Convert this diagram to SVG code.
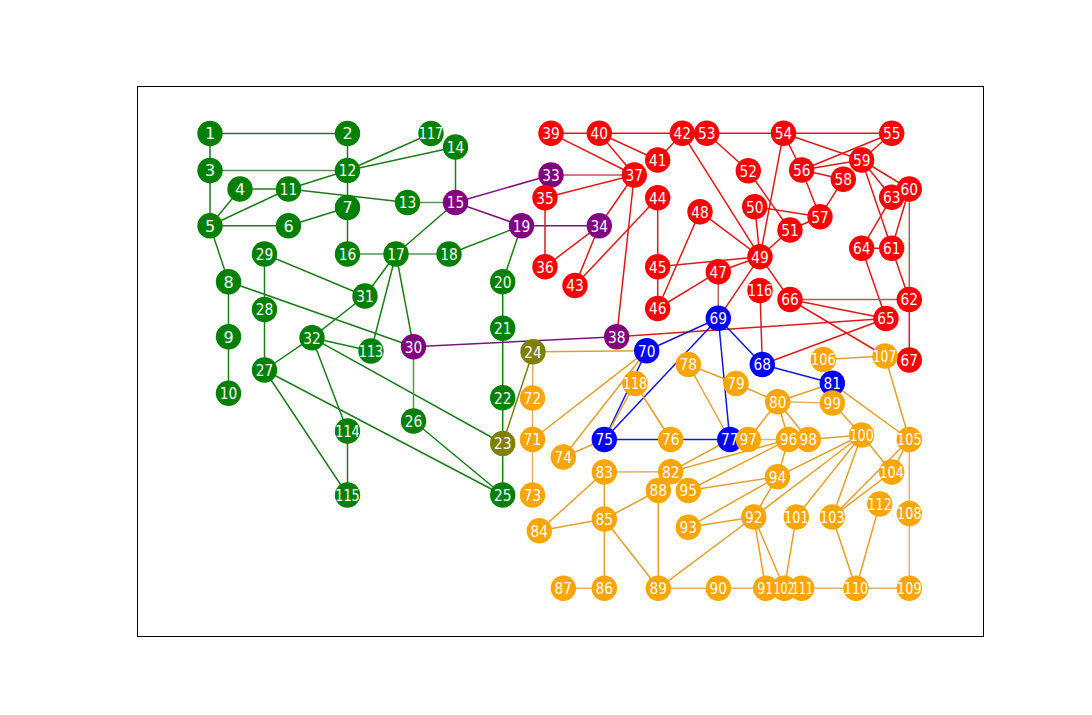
<svg xmlns="http://www.w3.org/2000/svg" width="1092" height="715" viewBox="0 0 1092 715">
<style>
line{stroke-width:1.5;fill:none}
.g{stroke:#1c7c1c}.gm{stroke:#5f8f5f}.p{stroke:#7a157a}.ol{stroke:#7d7d18}.r{stroke:#dc1a1a}.rm{stroke:#b85a5a}.b{stroke:#1414e0}.o{stroke:#e3a02a}.t{stroke:#dcb46a}
circle{stroke:none}
.G{fill:#008000}.P{fill:#800080}.OL{fill:#808000}.R{fill:#ff0000}.B{fill:#0000ff}.O{fill:#ffa500}
text{fill:#ffffff;font-family:"DejaVu Sans",sans-serif;font-size:16px;text-anchor:middle}
</style>
<rect x="137.5" y="86.5" width="846" height="550" fill="#ffffff" stroke="#000000" stroke-width="1"/>
<g id="edges">
<line class="g" x1="210" y1="133.5" x2="347.5" y2="133.5"/>
<line class="g" x1="210" y1="133.5" x2="210" y2="170.5"/>
<line class="g" x1="347.5" y1="133.5" x2="347.5" y2="170.5"/>
<line class="g" x1="347.5" y1="170.5" x2="431" y2="133.5"/>
<line class="g" x1="347.5" y1="170.5" x2="455.5" y2="147"/>
<line class="g" x1="347.5" y1="170.5" x2="288.5" y2="189"/>
<line class="g" x1="347.5" y1="170.5" x2="347.5" y2="207.5"/>
<line class="g" x1="210" y1="170.5" x2="210" y2="225.7"/>
<line class="g" x1="240" y1="189" x2="288.5" y2="189"/>
<line class="g" x1="240" y1="189" x2="210" y2="225.7"/>
<line class="g" x1="210" y1="225.7" x2="288.5" y2="189"/>
<line class="g" x1="210" y1="225.7" x2="288.5" y2="225.7"/>
<line class="g" x1="288.5" y1="225.7" x2="347.5" y2="207.5"/>
<line class="g" x1="288.5" y1="189" x2="407.5" y2="202.5"/>
<line class="g" x1="455.5" y1="147" x2="455.5" y2="202.5"/>
<line class="g" x1="347.5" y1="207.5" x2="347.5" y2="254"/>
<line class="g" x1="455.5" y1="202.5" x2="396" y2="254"/>
<line class="g" x1="210" y1="225.7" x2="228.5" y2="281.7"/>
<line class="g" x1="228.5" y1="281.7" x2="228.5" y2="336.7"/>
<line class="g" x1="228.5" y1="336.7" x2="228.5" y2="393.3"/>
<line class="g" x1="228.5" y1="281.7" x2="413.5" y2="346.7"/>
<line class="g" x1="264.5" y1="254" x2="264.5" y2="309.5"/>
<line class="g" x1="264.5" y1="309.5" x2="264.5" y2="370"/>
<line class="g" x1="264.5" y1="254" x2="365" y2="296"/>
<line class="g" x1="396" y1="254" x2="365" y2="296"/>
<line class="g" x1="396" y1="254" x2="371" y2="351"/>
<line class="g" x1="396" y1="254" x2="413.5" y2="346.7"/>
<line class="g" x1="365" y1="296" x2="312" y2="337.7"/>
<line class="g" x1="312" y1="337.7" x2="264.5" y2="370"/>
<line class="g" x1="312" y1="337.7" x2="371" y2="351"/>
<line class="g" x1="312" y1="337.7" x2="347.5" y2="431"/>
<line class="g" x1="312" y1="337.7" x2="502.7" y2="443.5"/>
<line class="g" x1="264.5" y1="370" x2="347.5" y2="495"/>
<line class="g" x1="264.5" y1="370" x2="502.7" y2="495"/>
<line class="g" x1="347.5" y1="431" x2="347.5" y2="495"/>
<line class="g" x1="413.5" y1="421" x2="502.7" y2="495"/>
<line class="g" x1="449" y1="254" x2="521.5" y2="225.7"/>
<line class="g" x1="521.5" y1="225.7" x2="502.7" y2="281.7"/>
<line class="g" x1="502.7" y1="281.7" x2="502.7" y2="328.3"/>
<line class="g" x1="502.7" y1="328.3" x2="502.7" y2="397.7"/>
<line class="g" x1="502.7" y1="397.7" x2="502.7" y2="443.5"/>
<line class="g" x1="502.7" y1="443.5" x2="502.7" y2="495"/>
<line class="gm" x1="210" y1="170.5" x2="347.5" y2="170.5"/>
<line class="gm" x1="407.5" y1="202.5" x2="455.5" y2="202.5"/>
<line class="gm" x1="347.5" y1="254" x2="396" y2="254"/>
<line class="gm" x1="396" y1="254" x2="449" y2="254"/>
<line class="gm" x1="413.5" y1="346.7" x2="413.5" y2="421"/>
<line class="p" x1="455.5" y1="202.5" x2="551" y2="175"/>
<line class="p" x1="455.5" y1="202.5" x2="521.5" y2="225.7"/>
<line class="p" x1="521.5" y1="225.7" x2="599.3" y2="225.7"/>
<line class="p" x1="413.5" y1="346.7" x2="616.7" y2="336.7"/>
<line class="ol" x1="502.7" y1="443.5" x2="533" y2="351.7"/>
<line class="r" x1="551" y1="133.3" x2="599.3" y2="133.3"/>
<line class="r" x1="599.3" y1="133.3" x2="682.3" y2="133.3"/>
<line class="r" x1="706.7" y1="133.3" x2="783.5" y2="133.3"/>
<line class="r" x1="783.5" y1="133.3" x2="891.7" y2="133.3"/>
<line class="r" x1="551" y1="133.3" x2="634.3" y2="175"/>
<line class="r" x1="599.3" y1="133.3" x2="634.3" y2="175"/>
<line class="r" x1="599.3" y1="133.3" x2="657.7" y2="160"/>
<line class="r" x1="657.7" y1="160" x2="682.3" y2="133.3"/>
<line class="rm" x1="551" y1="175" x2="634.3" y2="175"/>
<line class="r" x1="545" y1="197.7" x2="634.3" y2="175"/>
<line class="r" x1="545" y1="197.7" x2="545" y2="266.7"/>
<line class="r" x1="599.3" y1="225.7" x2="545" y2="266.7"/>
<line class="r" x1="599.3" y1="225.7" x2="634.3" y2="175"/>
<line class="r" x1="599.3" y1="225.7" x2="575" y2="285.5"/>
<line class="r" x1="657.7" y1="197.7" x2="575" y2="285.5"/>
<line class="r" x1="657.7" y1="197.7" x2="657.7" y2="266.7"/>
<line class="r" x1="657.7" y1="266.7" x2="657.7" y2="308.5"/>
<line class="r" x1="634.3" y1="175" x2="616.7" y2="336.7"/>
<line class="r" x1="682.3" y1="133.3" x2="760" y2="256.7"/>
<line class="r" x1="706.7" y1="133.3" x2="748.3" y2="170.7"/>
<line class="r" x1="748.3" y1="170.7" x2="790" y2="230"/>
<line class="r" x1="783.5" y1="133.3" x2="760" y2="256.7"/>
<line class="r" x1="783.5" y1="133.3" x2="801.7" y2="170"/>
<line class="r" x1="783.5" y1="133.3" x2="861.7" y2="160"/>
<line class="r" x1="891.7" y1="133.3" x2="801.7" y2="170"/>
<line class="r" x1="891.7" y1="133.3" x2="861.7" y2="160"/>
<line class="r" x1="801.7" y1="170" x2="861.7" y2="160"/>
<line class="r" x1="801.7" y1="170" x2="843.3" y2="179.3"/>
<line class="r" x1="801.7" y1="170" x2="820" y2="216.7"/>
<line class="r" x1="843.3" y1="179.3" x2="820" y2="216.7"/>
<line class="r" x1="820" y1="216.7" x2="790" y2="230"/>
<line class="r" x1="754.7" y1="206.7" x2="820" y2="216.7"/>
<line class="r" x1="754.7" y1="206.7" x2="760" y2="256.7"/>
<line class="r" x1="790" y1="230" x2="760" y2="256.7"/>
<line class="r" x1="700" y1="211.7" x2="760" y2="256.7"/>
<line class="r" x1="657.7" y1="266.7" x2="760" y2="256.7"/>
<line class="r" x1="718.3" y1="271.7" x2="760" y2="256.7"/>
<line class="r" x1="657.7" y1="308.5" x2="700" y2="211.7"/>
<line class="r" x1="657.7" y1="308.5" x2="718.3" y2="271.7"/>
<line class="rm" x1="718.3" y1="271.7" x2="718.3" y2="318.3"/>
<line class="r" x1="760" y1="256.7" x2="718.3" y2="318.3"/>
<line class="r" x1="760" y1="256.7" x2="790" y2="299.5"/>
<line class="r" x1="760" y1="290.5" x2="762.3" y2="364.5"/>
<line class="r" x1="790" y1="299.5" x2="886" y2="318.5"/>
<line class="r" x1="790" y1="299.5" x2="885" y2="356"/>
<line class="r" x1="886" y1="318.5" x2="762.3" y2="364.5"/>
<line class="r" x1="616.7" y1="336.7" x2="886" y2="318.5"/>
<line class="r" x1="861.7" y1="160" x2="909.3" y2="189"/>
<line class="r" x1="861.7" y1="160" x2="891.7" y2="197.3"/>
<line class="r" x1="861.7" y1="160" x2="891.7" y2="248.3"/>
<line class="r" x1="909.3" y1="189" x2="891.7" y2="197.3"/>
<line class="r" x1="909.3" y1="189" x2="891.7" y2="248.3"/>
<line class="rm" x1="909.3" y1="189" x2="909.3" y2="299.5"/>
<line class="r" x1="891.7" y1="197.3" x2="861.7" y2="248.3"/>
<line class="r" x1="861.7" y1="248.3" x2="891.7" y2="248.3"/>
<line class="r" x1="861.7" y1="248.3" x2="886" y2="318.5"/>
<line class="r" x1="891.7" y1="248.3" x2="909.3" y2="299.5"/>
<line class="r" x1="909.3" y1="299.5" x2="909.3" y2="360"/>
<line class="rm" x1="790" y1="299.5" x2="909.3" y2="299.5"/>
<line class="b" x1="718.3" y1="318.3" x2="646.7" y2="350.7"/>
<line class="b" x1="718.3" y1="318.3" x2="604.3" y2="439.5"/>
<line class="b" x1="718.3" y1="318.3" x2="729.8" y2="439.5"/>
<line class="b" x1="718.3" y1="318.3" x2="762.3" y2="364.5"/>
<line class="b" x1="646.7" y1="350.7" x2="604.3" y2="439.5"/>
<line class="b" x1="604.3" y1="439.5" x2="670.7" y2="439.5"/>
<line class="b" x1="670.7" y1="439.5" x2="729.8" y2="439.5"/>
<line class="b" x1="762.3" y1="364.5" x2="832.3" y2="383.3"/>
<line class="o" x1="533" y1="351.7" x2="646.7" y2="350.7"/>
<line class="t" x1="533" y1="351.7" x2="532.5" y2="398"/>
<line class="t" x1="532.5" y1="398" x2="532.5" y2="439.5"/>
<line class="t" x1="532.5" y1="439.5" x2="532.5" y2="495"/>
<line class="o" x1="532.5" y1="439.5" x2="646.7" y2="350.7"/>
<line class="o" x1="563.3" y1="457" x2="646.7" y2="350.7"/>
<line class="o" x1="563.3" y1="457" x2="604.3" y2="439.5"/>
<line class="o" x1="635" y1="383.5" x2="604.3" y2="439.5"/>
<line class="o" x1="635" y1="383.5" x2="670.7" y2="439.5"/>
<line class="o" x1="688.3" y1="364.5" x2="729.8" y2="439.5"/>
<line class="o" x1="688.3" y1="364.5" x2="736" y2="383.5"/>
<line class="o" x1="736" y1="383.5" x2="777.7" y2="401.7"/>
<line class="o" x1="777.7" y1="401.7" x2="832.3" y2="383.3"/>
<line class="t" x1="777.7" y1="401.7" x2="832.3" y2="403"/>
<line class="o" x1="777.7" y1="401.7" x2="748.3" y2="439.5"/>
<line class="o" x1="777.7" y1="401.7" x2="788.5" y2="439.5"/>
<line class="o" x1="777.7" y1="401.7" x2="808.3" y2="439.5"/>
<line class="t" x1="748.3" y1="439.5" x2="788.5" y2="439.5"/>
<line class="o" x1="670.7" y1="471.7" x2="729.8" y2="439.5"/>
<line class="o" x1="670.7" y1="471.7" x2="788.5" y2="439.5"/>
<line class="o" x1="688.3" y1="490.5" x2="788.5" y2="439.5"/>
<line class="o" x1="688.3" y1="490.5" x2="777.5" y2="476.7"/>
<line class="o" x1="777.5" y1="476.7" x2="788.5" y2="439.5"/>
<line class="o" x1="777.5" y1="476.7" x2="861.7" y2="435"/>
<line class="o" x1="777.5" y1="476.7" x2="753.8" y2="517"/>
<line class="o" x1="688.3" y1="527.3" x2="777.5" y2="476.7"/>
<line class="o" x1="688.3" y1="527.3" x2="753.8" y2="517"/>
<line class="o" x1="753.8" y1="517" x2="861.7" y2="435"/>
<line class="o" x1="658.3" y1="588.3" x2="753.8" y2="517"/>
<line class="o" x1="753.8" y1="517" x2="765.7" y2="588.3"/>
<line class="o" x1="753.8" y1="517" x2="784.3" y2="588.3"/>
<line class="o" x1="796.3" y1="517" x2="784.3" y2="588.3"/>
<line class="o" x1="796.3" y1="517" x2="861.7" y2="435"/>
<line class="o" x1="861.7" y1="435" x2="832.3" y2="517"/>
<line class="o" x1="861.7" y1="435" x2="808.3" y2="439.5"/>
<line class="o" x1="832.3" y1="403" x2="861.7" y2="435"/>
<line class="o" x1="861.7" y1="435" x2="891.7" y2="472"/>
<line class="o" x1="832.3" y1="383.3" x2="909.3" y2="439.5"/>
<line class="o" x1="891.7" y1="472" x2="909.3" y2="439.5"/>
<line class="o" x1="832.3" y1="517" x2="891.7" y2="472"/>
<line class="o" x1="832.3" y1="517" x2="909.3" y2="439.5"/>
<line class="o" x1="832.3" y1="517" x2="856" y2="588.3"/>
<line class="o" x1="879.7" y1="504" x2="856" y2="588.3"/>
<line class="t" x1="909.3" y1="439.5" x2="909.3" y2="513.5"/>
<line class="t" x1="909.3" y1="513.5" x2="909.3" y2="588.3"/>
<line class="t" x1="909.3" y1="588.3" x2="856" y2="588.3"/>
<line class="t" x1="856" y1="588.3" x2="801.7" y2="588.3"/>
<line class="t" x1="765.7" y1="588.3" x2="718.3" y2="588.3"/>
<line class="t" x1="718.3" y1="588.3" x2="658.3" y2="588.3"/>
<line class="t" x1="604.3" y1="588.3" x2="563.3" y2="588.3"/>
<line class="o" x1="658.3" y1="588.3" x2="604.3" y2="519"/>
<line class="o" x1="658.3" y1="588.3" x2="658.3" y2="490.5"/>
<line class="o" x1="604.3" y1="519" x2="604.3" y2="588.3"/>
<line class="o" x1="604.3" y1="519" x2="604.3" y2="472"/>
<line class="o" x1="604.3" y1="519" x2="539.3" y2="530.7"/>
<line class="o" x1="604.3" y1="519" x2="658.3" y2="490.5"/>
<line class="o" x1="604.3" y1="472" x2="539.3" y2="530.7"/>
<line class="t" x1="604.3" y1="472" x2="670.7" y2="471.7"/>
<line class="o" x1="823.3" y1="359.5" x2="885" y2="356"/>
<line class="o" x1="885" y1="356" x2="909.3" y2="439.5"/>
</g>
<g id="n1"><circle class="G" cx="210" cy="133.5" r="12.7"/><text x="210" y="139.3">1</text></g>
<g id="n2"><circle class="G" cx="347.5" cy="133.5" r="12.7"/><text x="347.5" y="139.3">2</text></g>
<g id="n3"><circle class="G" cx="210" cy="170.5" r="12.7"/><text x="210" y="176.3">3</text></g>
<g id="n4"><circle class="G" cx="240" cy="189" r="12.7"/><text x="240" y="194.8">4</text></g>
<g id="n5"><circle class="G" cx="210" cy="225.7" r="12.7"/><text x="210" y="231.5">5</text></g>
<g id="n6"><circle class="G" cx="288.5" cy="225.7" r="12.7"/><text x="288.5" y="231.5">6</text></g>
<g id="n7"><circle class="G" cx="347.5" cy="207.5" r="12.7"/><text x="347.5" y="213.3">7</text></g>
<g id="n8"><circle class="G" cx="228.5" cy="281.7" r="12.7"/><text x="228.5" y="287.5">8</text></g>
<g id="n9"><circle class="G" cx="228.5" cy="336.7" r="12.7"/><text x="228.5" y="342.5">9</text></g>
<g id="n10"><circle class="G" cx="228.5" cy="393.3" r="12.7"/><text x="228.5" y="399.1" textLength="17.5" lengthAdjust="spacingAndGlyphs">10</text></g>
<g id="n11"><circle class="G" cx="288.5" cy="189" r="12.7"/><text x="288.5" y="194.8" textLength="17.5" lengthAdjust="spacingAndGlyphs">11</text></g>
<g id="n12"><circle class="G" cx="347.5" cy="170.5" r="12.7"/><text x="347.5" y="176.3" textLength="17.5" lengthAdjust="spacingAndGlyphs">12</text></g>
<g id="n13"><circle class="G" cx="407.5" cy="202.5" r="12.7"/><text x="407.5" y="208.3" textLength="17.5" lengthAdjust="spacingAndGlyphs">13</text></g>
<g id="n14"><circle class="G" cx="455.5" cy="147" r="12.7"/><text x="455.5" y="152.8" textLength="17.5" lengthAdjust="spacingAndGlyphs">14</text></g>
<g id="n15"><circle class="P" cx="455.5" cy="202.5" r="12.7"/><text x="455.5" y="208.3" textLength="17.5" lengthAdjust="spacingAndGlyphs">15</text></g>
<g id="n16"><circle class="G" cx="347.5" cy="254" r="12.7"/><text x="347.5" y="259.8" textLength="17.5" lengthAdjust="spacingAndGlyphs">16</text></g>
<g id="n17"><circle class="G" cx="396" cy="254" r="12.7"/><text x="396" y="259.8" textLength="17.5" lengthAdjust="spacingAndGlyphs">17</text></g>
<g id="n18"><circle class="G" cx="449" cy="254" r="12.7"/><text x="449" y="259.8" textLength="17.5" lengthAdjust="spacingAndGlyphs">18</text></g>
<g id="n19"><circle class="P" cx="521.5" cy="225.7" r="12.7"/><text x="521.5" y="231.5" textLength="17.5" lengthAdjust="spacingAndGlyphs">19</text></g>
<g id="n20"><circle class="G" cx="502.7" cy="281.7" r="12.7"/><text x="502.7" y="287.5" textLength="17.5" lengthAdjust="spacingAndGlyphs">20</text></g>
<g id="n21"><circle class="G" cx="502.7" cy="328.3" r="12.7"/><text x="502.7" y="334.1" textLength="17.5" lengthAdjust="spacingAndGlyphs">21</text></g>
<g id="n22"><circle class="G" cx="502.7" cy="397.7" r="12.7"/><text x="502.7" y="403.5" textLength="17.5" lengthAdjust="spacingAndGlyphs">22</text></g>
<g id="n23"><circle class="OL" cx="502.7" cy="443.5" r="12.7"/><text x="502.7" y="449.3" textLength="17.5" lengthAdjust="spacingAndGlyphs">23</text></g>
<g id="n24"><circle class="OL" cx="533" cy="351.7" r="12.7"/><text x="533" y="357.5" textLength="17.5" lengthAdjust="spacingAndGlyphs">24</text></g>
<g id="n25"><circle class="G" cx="502.7" cy="495" r="12.7"/><text x="502.7" y="500.8" textLength="17.5" lengthAdjust="spacingAndGlyphs">25</text></g>
<g id="n26"><circle class="G" cx="413.5" cy="421" r="12.7"/><text x="413.5" y="426.8" textLength="17.5" lengthAdjust="spacingAndGlyphs">26</text></g>
<g id="n27"><circle class="G" cx="264.5" cy="370" r="12.7"/><text x="264.5" y="375.8" textLength="17.5" lengthAdjust="spacingAndGlyphs">27</text></g>
<g id="n28"><circle class="G" cx="264.5" cy="309.5" r="12.7"/><text x="264.5" y="315.3" textLength="17.5" lengthAdjust="spacingAndGlyphs">28</text></g>
<g id="n29"><circle class="G" cx="264.5" cy="254" r="12.7"/><text x="264.5" y="259.8" textLength="17.5" lengthAdjust="spacingAndGlyphs">29</text></g>
<g id="n30"><circle class="P" cx="413.5" cy="346.7" r="12.7"/><text x="413.5" y="352.5" textLength="17.5" lengthAdjust="spacingAndGlyphs">30</text></g>
<g id="n31"><circle class="G" cx="365" cy="296" r="12.7"/><text x="365" y="301.8" textLength="17.5" lengthAdjust="spacingAndGlyphs">31</text></g>
<g id="n32"><circle class="G" cx="312" cy="337.7" r="12.7"/><text x="312" y="343.5" textLength="17.5" lengthAdjust="spacingAndGlyphs">32</text></g>
<g id="n33"><circle class="P" cx="551" cy="175" r="12.7"/><text x="551" y="180.8" textLength="17.5" lengthAdjust="spacingAndGlyphs">33</text></g>
<g id="n34"><circle class="P" cx="599.3" cy="225.7" r="12.7"/><text x="599.3" y="231.5" textLength="17.5" lengthAdjust="spacingAndGlyphs">34</text></g>
<g id="n35"><circle class="R" cx="545" cy="197.7" r="12.7"/><text x="545" y="203.5" textLength="17.5" lengthAdjust="spacingAndGlyphs">35</text></g>
<g id="n36"><circle class="R" cx="545" cy="266.7" r="12.7"/><text x="545" y="272.5" textLength="17.5" lengthAdjust="spacingAndGlyphs">36</text></g>
<g id="n37"><circle class="R" cx="634.3" cy="175" r="12.7"/><text x="634.3" y="180.8" textLength="17.5" lengthAdjust="spacingAndGlyphs">37</text></g>
<g id="n38"><circle class="P" cx="616.7" cy="336.7" r="12.7"/><text x="616.7" y="342.5" textLength="17.5" lengthAdjust="spacingAndGlyphs">38</text></g>
<g id="n39"><circle class="R" cx="551" cy="133.3" r="12.7"/><text x="551" y="139.1" textLength="17.5" lengthAdjust="spacingAndGlyphs">39</text></g>
<g id="n40"><circle class="R" cx="599.3" cy="133.3" r="12.7"/><text x="599.3" y="139.1" textLength="17.5" lengthAdjust="spacingAndGlyphs">40</text></g>
<g id="n41"><circle class="R" cx="657.7" cy="160" r="12.7"/><text x="657.7" y="165.8" textLength="17.5" lengthAdjust="spacingAndGlyphs">41</text></g>
<g id="n42"><circle class="R" cx="682.3" cy="133.3" r="12.7"/><g id="n53"><circle class="R" cx="706.7" cy="133.3" r="12.7"/><text x="706.7" y="139.1" textLength="17.5" lengthAdjust="spacingAndGlyphs">53</text></g><text x="682.3" y="139.1" textLength="17.5" lengthAdjust="spacingAndGlyphs">42</text></g>
<g id="n43"><circle class="R" cx="575" cy="285.5" r="12.7"/><text x="575" y="291.3" textLength="17.5" lengthAdjust="spacingAndGlyphs">43</text></g>
<g id="n44"><circle class="R" cx="657.7" cy="197.7" r="12.7"/><text x="657.7" y="203.5" textLength="17.5" lengthAdjust="spacingAndGlyphs">44</text></g>
<g id="n45"><circle class="R" cx="657.7" cy="266.7" r="12.7"/><text x="657.7" y="272.5" textLength="17.5" lengthAdjust="spacingAndGlyphs">45</text></g>
<g id="n46"><circle class="R" cx="657.7" cy="308.5" r="12.7"/><text x="657.7" y="314.3" textLength="17.5" lengthAdjust="spacingAndGlyphs">46</text></g>
<g id="n47"><circle class="R" cx="718.3" cy="271.7" r="12.7"/><text x="718.3" y="277.5" textLength="17.5" lengthAdjust="spacingAndGlyphs">47</text></g>
<g id="n48"><circle class="R" cx="700" cy="211.7" r="12.7"/><text x="700" y="217.5" textLength="17.5" lengthAdjust="spacingAndGlyphs">48</text></g>
<g id="n49"><circle class="R" cx="760" cy="256.7" r="12.7"/><text x="760" y="262.5" textLength="17.5" lengthAdjust="spacingAndGlyphs">49</text></g>
<g id="n50"><circle class="R" cx="754.7" cy="206.7" r="12.7"/><text x="754.7" y="212.5" textLength="17.5" lengthAdjust="spacingAndGlyphs">50</text></g>
<g id="n51"><circle class="R" cx="790" cy="230" r="12.7"/><text x="790" y="235.8" textLength="17.5" lengthAdjust="spacingAndGlyphs">51</text></g>
<g id="n52"><circle class="R" cx="748.3" cy="170.7" r="12.7"/><text x="748.3" y="176.5" textLength="17.5" lengthAdjust="spacingAndGlyphs">52</text></g>
<g id="n54"><circle class="R" cx="783.5" cy="133.3" r="12.7"/><text x="783.5" y="139.1" textLength="17.5" lengthAdjust="spacingAndGlyphs">54</text></g>
<g id="n55"><circle class="R" cx="891.7" cy="133.3" r="12.7"/><text x="891.7" y="139.1" textLength="17.5" lengthAdjust="spacingAndGlyphs">55</text></g>
<g id="n56"><circle class="R" cx="801.7" cy="170" r="12.7"/><text x="801.7" y="175.8" textLength="17.5" lengthAdjust="spacingAndGlyphs">56</text></g>
<g id="n57"><circle class="R" cx="820" cy="216.7" r="12.7"/><text x="820" y="222.5" textLength="17.5" lengthAdjust="spacingAndGlyphs">57</text></g>
<g id="n58"><circle class="R" cx="843.3" cy="179.3" r="12.7"/><text x="843.3" y="185.1" textLength="17.5" lengthAdjust="spacingAndGlyphs">58</text></g>
<g id="n59"><circle class="R" cx="861.7" cy="160" r="12.7"/><text x="861.7" y="165.8" textLength="17.5" lengthAdjust="spacingAndGlyphs">59</text></g>
<g id="n63"><circle class="R" cx="891.7" cy="197.3" r="12.7"/><g id="n60"><circle class="R" cx="909.3" cy="189" r="12.7"/><text x="909.3" y="194.8" textLength="17.5" lengthAdjust="spacingAndGlyphs">60</text></g><text x="891.7" y="203.1" textLength="17.5" lengthAdjust="spacingAndGlyphs">63</text></g>
<g id="n61"><circle class="R" cx="891.7" cy="248.3" r="12.7"/><text x="891.7" y="254.1" textLength="17.5" lengthAdjust="spacingAndGlyphs">61</text></g>
<g id="n62"><circle class="R" cx="909.3" cy="299.5" r="12.7"/><text x="909.3" y="305.3" textLength="17.5" lengthAdjust="spacingAndGlyphs">62</text></g>
<g id="n64"><circle class="R" cx="861.7" cy="248.3" r="12.7"/><text x="861.7" y="254.1" textLength="17.5" lengthAdjust="spacingAndGlyphs">64</text></g>
<g id="n65"><circle class="R" cx="886" cy="318.5" r="12.7"/><text x="886" y="324.3" textLength="17.5" lengthAdjust="spacingAndGlyphs">65</text></g>
<g id="n66"><circle class="R" cx="790" cy="299.5" r="12.7"/><text x="790" y="305.3" textLength="17.5" lengthAdjust="spacingAndGlyphs">66</text></g>
<g id="n67"><circle class="R" cx="909.3" cy="360" r="12.7"/><text x="909.3" y="365.8" textLength="17.5" lengthAdjust="spacingAndGlyphs">67</text></g>
<g id="n68"><circle class="B" cx="762.3" cy="364.5" r="12.7"/><text x="762.3" y="370.3" textLength="17.5" lengthAdjust="spacingAndGlyphs">68</text></g>
<g id="n69"><circle class="B" cx="718.3" cy="318.3" r="12.7"/><text x="718.3" y="324.1" textLength="17.5" lengthAdjust="spacingAndGlyphs">69</text></g>
<g id="n70"><circle class="B" cx="646.7" cy="350.7" r="12.7"/><text x="646.7" y="356.5" textLength="17.5" lengthAdjust="spacingAndGlyphs">70</text></g>
<g id="n71"><circle class="O" cx="532.5" cy="439.5" r="12.7"/><text x="532.5" y="445.3" textLength="17.5" lengthAdjust="spacingAndGlyphs">71</text></g>
<g id="n72"><circle class="O" cx="532.5" cy="398" r="12.7"/><text x="532.5" y="403.8" textLength="17.5" lengthAdjust="spacingAndGlyphs">72</text></g>
<g id="n73"><circle class="O" cx="532.5" cy="495" r="12.7"/><text x="532.5" y="500.8" textLength="17.5" lengthAdjust="spacingAndGlyphs">73</text></g>
<g id="n74"><circle class="O" cx="563.3" cy="457" r="12.7"/><text x="563.3" y="462.8" textLength="17.5" lengthAdjust="spacingAndGlyphs">74</text></g>
<g id="n75"><circle class="B" cx="604.3" cy="439.5" r="12.7"/><text x="604.3" y="445.3" textLength="17.5" lengthAdjust="spacingAndGlyphs">75</text></g>
<g id="n76"><circle class="O" cx="670.7" cy="439.5" r="12.7"/><text x="670.7" y="445.3" textLength="17.5" lengthAdjust="spacingAndGlyphs">76</text></g>
<g id="n77"><circle class="B" cx="729.8" cy="439.5" r="12.7"/><g id="n97"><circle class="O" cx="748.3" cy="439.5" r="12.7"/><text x="748.3" y="445.3" textLength="17.5" lengthAdjust="spacingAndGlyphs">97</text></g><text x="729.8" y="445.3" textLength="17.5" lengthAdjust="spacingAndGlyphs">77</text></g>
<g id="n78"><circle class="O" cx="688.3" cy="364.5" r="12.7"/><text x="688.3" y="370.3" textLength="17.5" lengthAdjust="spacingAndGlyphs">78</text></g>
<g id="n79"><circle class="O" cx="736" cy="383.5" r="12.7"/><text x="736" y="389.3" textLength="17.5" lengthAdjust="spacingAndGlyphs">79</text></g>
<g id="n80"><circle class="O" cx="777.7" cy="401.7" r="12.7"/><text x="777.7" y="407.5" textLength="17.5" lengthAdjust="spacingAndGlyphs">80</text></g>
<g id="n81"><circle class="B" cx="832.3" cy="383.3" r="12.7"/><text x="832.3" y="389.1" textLength="17.5" lengthAdjust="spacingAndGlyphs">81</text></g>
<g id="n82"><circle class="O" cx="670.7" cy="471.7" r="12.7"/><text x="670.7" y="477.5" textLength="17.5" lengthAdjust="spacingAndGlyphs">82</text></g>
<g id="n83"><circle class="O" cx="604.3" cy="472" r="12.7"/><text x="604.3" y="477.8" textLength="17.5" lengthAdjust="spacingAndGlyphs">83</text></g>
<g id="n84"><circle class="O" cx="539.3" cy="530.7" r="12.7"/><text x="539.3" y="536.5" textLength="17.5" lengthAdjust="spacingAndGlyphs">84</text></g>
<g id="n85"><circle class="O" cx="604.3" cy="519" r="12.7"/><text x="604.3" y="524.8" textLength="17.5" lengthAdjust="spacingAndGlyphs">85</text></g>
<g id="n86"><circle class="O" cx="604.3" cy="588.3" r="12.7"/><text x="604.3" y="594.1" textLength="17.5" lengthAdjust="spacingAndGlyphs">86</text></g>
<g id="n87"><circle class="O" cx="563.3" cy="588.3" r="12.7"/><text x="563.3" y="594.1" textLength="17.5" lengthAdjust="spacingAndGlyphs">87</text></g>
<g id="n88"><circle class="O" cx="658.3" cy="490.5" r="12.7"/><text x="658.3" y="496.3" textLength="17.5" lengthAdjust="spacingAndGlyphs">88</text></g>
<g id="n89"><circle class="O" cx="658.3" cy="588.3" r="12.7"/><text x="658.3" y="594.1" textLength="17.5" lengthAdjust="spacingAndGlyphs">89</text></g>
<g id="n90"><circle class="O" cx="718.3" cy="588.3" r="12.7"/><text x="718.3" y="594.1" textLength="17.5" lengthAdjust="spacingAndGlyphs">90</text></g>
<g id="n91"><circle class="O" cx="765.7" cy="588.3" r="12.7"/><g id="n102"><circle class="O" cx="784.3" cy="588.3" r="12.7"/><g id="n111"><circle class="O" cx="801.7" cy="588.3" r="12.7"/><text x="802.5" y="594.1" textLength="21" lengthAdjust="spacingAndGlyphs">111</text></g><text x="784" y="594.1" textLength="21" lengthAdjust="spacingAndGlyphs">102</text></g><text x="765.2" y="594.1" textLength="16" lengthAdjust="spacingAndGlyphs">91</text></g>
<g id="n92"><circle class="O" cx="753.8" cy="517" r="12.7"/><text x="753.8" y="522.8" textLength="17.5" lengthAdjust="spacingAndGlyphs">92</text></g>
<g id="n93"><circle class="O" cx="688.3" cy="527.3" r="12.7"/><text x="688.3" y="533.1" textLength="17.5" lengthAdjust="spacingAndGlyphs">93</text></g>
<g id="n94"><circle class="O" cx="777.5" cy="476.7" r="12.7"/><text x="777.5" y="482.5" textLength="17.5" lengthAdjust="spacingAndGlyphs">94</text></g>
<g id="n95"><circle class="O" cx="688.3" cy="490.5" r="12.7"/><text x="688.3" y="496.3" textLength="17.5" lengthAdjust="spacingAndGlyphs">95</text></g>
<g id="n96"><circle class="O" cx="788.5" cy="439.5" r="12.7"/><g id="n98"><circle class="O" cx="808.3" cy="439.5" r="12.7"/><text x="808.3" y="445.3" textLength="17.5" lengthAdjust="spacingAndGlyphs">98</text></g><text x="788.5" y="445.3" textLength="17.5" lengthAdjust="spacingAndGlyphs">96</text></g>
<g id="n99"><circle class="O" cx="832.3" cy="403" r="12.7"/><text x="832.3" y="408.8" textLength="17.5" lengthAdjust="spacingAndGlyphs">99</text></g>
<g id="n100"><circle class="O" cx="861.7" cy="435" r="12.7"/><text x="861.7" y="440.8" textLength="24.5" lengthAdjust="spacingAndGlyphs">100</text></g>
<g id="n101"><circle class="O" cx="796.3" cy="517" r="12.7"/><text x="796.3" y="522.8" textLength="24.5" lengthAdjust="spacingAndGlyphs">101</text></g>
<g id="n103"><circle class="O" cx="832.3" cy="517" r="12.7"/><text x="832.3" y="522.8" textLength="24.5" lengthAdjust="spacingAndGlyphs">103</text></g>
<g id="n104"><circle class="O" cx="891.7" cy="472" r="12.7"/><text x="891.7" y="477.8" textLength="24.5" lengthAdjust="spacingAndGlyphs">104</text></g>
<g id="n105"><circle class="O" cx="909.3" cy="439.5" r="12.7"/><text x="909.3" y="445.3" textLength="24.5" lengthAdjust="spacingAndGlyphs">105</text></g>
<g id="n106"><circle class="O" cx="823.3" cy="359.5" r="12.7"/><text x="823.3" y="365.3" textLength="24.5" lengthAdjust="spacingAndGlyphs">106</text></g>
<g id="n107"><circle class="O" cx="885" cy="356" r="12.7"/><text x="884.5" y="361.8" textLength="23.5" lengthAdjust="spacingAndGlyphs">107</text></g>
<g id="n108"><circle class="O" cx="909.3" cy="513.5" r="12.7"/><text x="909.3" y="519.3" textLength="24.5" lengthAdjust="spacingAndGlyphs">108</text></g>
<g id="n109"><circle class="O" cx="909.3" cy="588.3" r="12.7"/><text x="909.3" y="594.1" textLength="24.5" lengthAdjust="spacingAndGlyphs">109</text></g>
<g id="n110"><circle class="O" cx="856" cy="588.3" r="12.7"/><text x="856" y="594.1" textLength="24.5" lengthAdjust="spacingAndGlyphs">110</text></g>
<g id="n112"><circle class="O" cx="879.7" cy="504" r="12.7"/><text x="879.7" y="509.8" textLength="24.5" lengthAdjust="spacingAndGlyphs">112</text></g>
<g id="n113"><circle class="G" cx="371" cy="351" r="12.7"/><text x="371" y="356.8" textLength="24.5" lengthAdjust="spacingAndGlyphs">113</text></g>
<g id="n114"><circle class="G" cx="347.5" cy="431" r="12.7"/><text x="347.5" y="436.8" textLength="24.5" lengthAdjust="spacingAndGlyphs">114</text></g>
<g id="n115"><circle class="G" cx="347.5" cy="495" r="12.7"/><text x="347.5" y="500.8" textLength="24.5" lengthAdjust="spacingAndGlyphs">115</text></g>
<g id="n116"><circle class="R" cx="760" cy="290.5" r="12.7"/><text x="760" y="296.3" textLength="24.5" lengthAdjust="spacingAndGlyphs">116</text></g>
<g id="n117"><circle class="G" cx="431" cy="133.5" r="12.7"/><text x="431" y="139.3" textLength="24.5" lengthAdjust="spacingAndGlyphs">117</text></g>
<g id="n118"><circle class="O" cx="635" cy="383.5" r="12.7"/><text x="635" y="389.3" textLength="24.5" lengthAdjust="spacingAndGlyphs">118</text></g>
</svg>
